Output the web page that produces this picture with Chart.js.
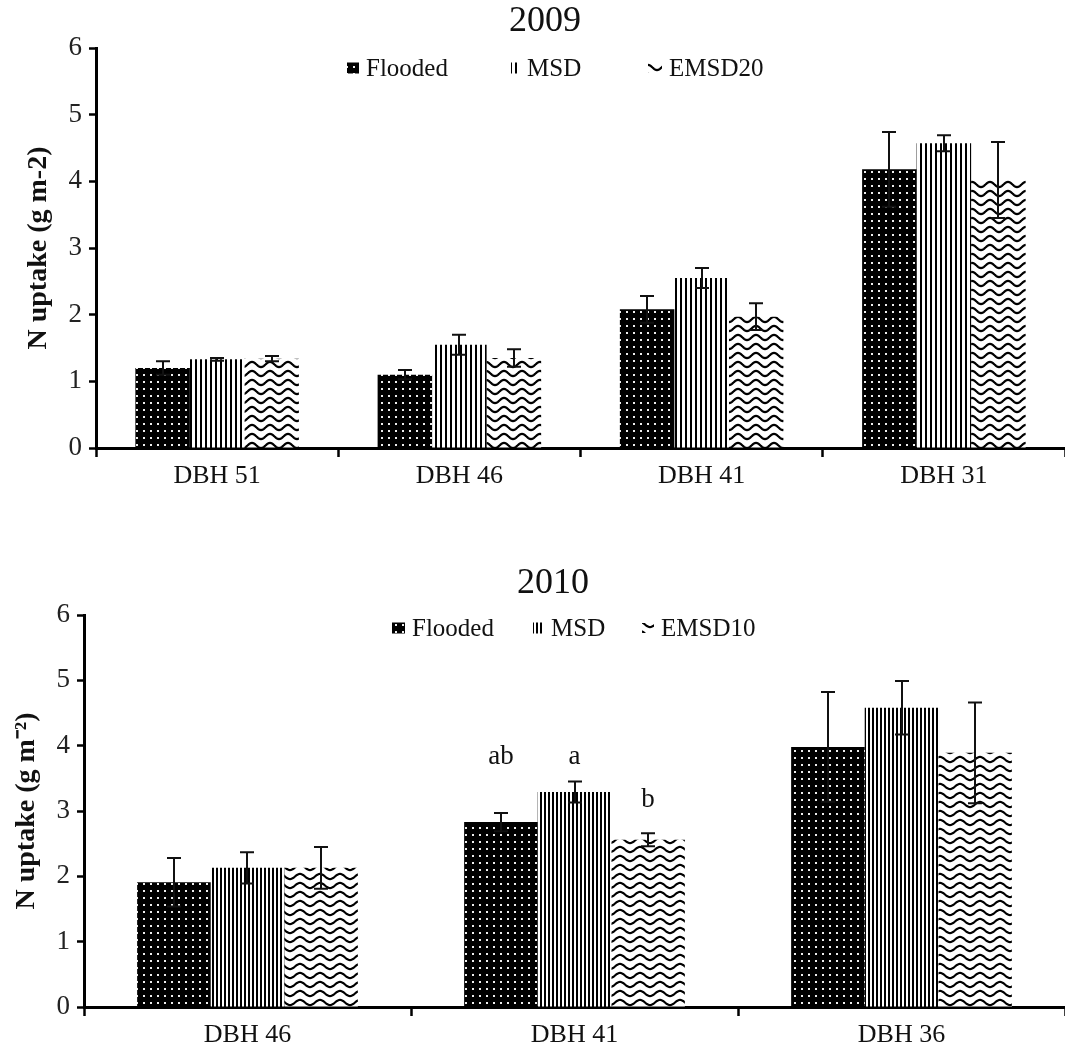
<!DOCTYPE html>
<html>
<head>
<meta charset="utf-8">
<script src="https://cdn.jsdelivr.net/npm/chart.js@4.4.0/dist/chart.umd.min.js"></script>
<style>
  body { margin: 0; background: #fff; }
  #wrap { position: relative; width: 1065px; height: 1056px; }
  .box { position: absolute; left: 0; width: 1065px; }
</style>
</head>
<body>
<div id="wrap">
  <div class="box" style="top:0;height:520px"><canvas id="chart2009"></canvas></div>
  <div class="box" style="top:530px;height:526px"><canvas id="chart2010"></canvas></div>
</div>
<script>
// 2009 season
const cats2009 = ['DBH 51', 'DBH 46', 'DBH 41', 'DBH 31'];
const flooded2009 = [1.20, 1.10, 2.08, 4.18];
const floodedErr2009 = [0.10, 0.07, 0.20, 0.56];
const msd2009 = [1.33, 1.55, 2.55, 4.57];
const msdErr2009 = [0.02, 0.15, 0.15, 0.12];
const emsd2009 = [1.34, 1.35, 1.97, 4.02];
const emsdErr2009 = [0.04, 0.13, 0.20, 0.57];

// 2010 season
const cats2010 = ['DBH 46', 'DBH 41', 'DBH 36'];
const flooded2010 = [1.91, 2.83, 3.98];
const floodedErr2010 = [0.37, 0.14, 0.84];
const msd2010 = [2.13, 3.29, 4.58];
const msdErr2010 = [0.24, 0.16, 0.41];
const emsd2010 = [2.13, 2.56, 3.89];
const emsdErr2010 = [0.32, 0.10, 0.77];

// significance letters for DBH 41 in 2010
const letters2010 = ['ab', 'a', 'b'];

const yTicks = [0, 1, 2, 3, 4, 5, 6];

const serif = "'Liberation Serif', 'Times New Roman', serif";

function makeTile(w, h, draw) {
  const c = document.createElement('canvas');
  c.width = w; c.height = h;
  const g = c.getContext('2d');
  draw(g, w, h);
  return g.createPattern(c, 'repeat');
}

// black with white dots
function dotFill() {
  return makeTile(7, 7, (g, w, h) => {
    g.fillStyle = '#000'; g.fillRect(0, 0, w, h);
    g.fillStyle = '#eee'; g.fillRect(3, 3, 2, 2);
  });
}

// vertical stripes
function stripeFill(period) {
  return makeTile(period, 4, (g, w, h) => {
    g.fillStyle = '#fff'; g.fillRect(0, 0, w, h);
    g.fillStyle = '#000'; g.fillRect(0, 0, 2, h);
  });
}

// wavy lines
function waveFill(w, h) {
  return makeTile(w, h, (g) => {
    g.fillStyle = '#fff'; g.fillRect(0, 0, w, h);
    g.strokeStyle = '#000'; g.lineWidth = 2.2;
    g.beginPath();
    for (let x = -1; x <= w + 1; x++) {
      const y = h / 2 - 2.6 * Math.cos(2 * Math.PI * x / w);
      if (x === -1) g.moveTo(x, y); else g.lineTo(x, y);
    }
    g.stroke();
  });
}

// error bars, both directions, with caps
const errorBars = {
  id: 'errorBars',
  afterDatasetsDraw(chart) {
    const ctx = chart.ctx;
    const y = chart.scales.y;
    ctx.save();
    ctx.strokeStyle = '#111';
    ctx.lineWidth = 2;
    chart.data.datasets.forEach((ds, i) => {
      chart.getDatasetMeta(i).data.forEach((bar, j) => {
        const v = ds.data[j], e = ds.errors[j];
        const top = y.getPixelForValue(v + e);
        const bot = y.getPixelForValue(v - e);
        const x = Math.round(bar.x);
        ctx.beginPath();
        ctx.moveTo(x, top); ctx.lineTo(x, bot);
        ctx.moveTo(x - 7, top); ctx.lineTo(x + 7, top);
        ctx.moveTo(x - 7, bot); ctx.lineTo(x + 7, bot);
        ctx.stroke();
      });
    });
    ctx.restore();
  }
};

// title, legend and letters drawn over the plot
const decor = {
  id: 'decor',
  afterDraw(chart, args, opts) {
    const ctx = chart.ctx;
    ctx.save();
    ctx.fillStyle = '#111';
    ctx.textBaseline = 'middle';
    ctx.font = '36px ' + serif;
    ctx.textAlign = 'center';
    ctx.fillText(opts.title, opts.titleX, opts.titleY);

    ctx.font = '25px ' + serif;
    ctx.textAlign = 'left';
    chart.data.datasets.forEach((ds, i) => {
      const mx = opts.legendX[i];
      const [mw, mh] = opts.markSize[i];
      ctx.fillStyle = ds.backgroundColor;
      ctx.fillRect(mx, opts.legendY - mh / 2, mw, mh);
      ctx.fillStyle = '#111';
      ctx.fillText(ds.label, mx + mw + 7, opts.legendY + 1);
    });

    if (opts.letters) {
      const y = chart.scales.y;
      ctx.font = '27px ' + serif;
      ctx.textAlign = 'center';
      opts.letters.forEach((txt, i) => {
        const bar = chart.getDatasetMeta(i).data[opts.letterCat];
        ctx.fillText(txt, bar.x, y.getPixelForValue(opts.letterLevel[i]));
      });
    }
    ctx.restore();
  }
};

function makeChart(id, cfg) {
  return new Chart(document.getElementById(id), {
    type: 'bar',
    data: {
      labels: cfg.labels,
      datasets: [
        { label: 'Flooded', data: cfg.flooded, errors: cfg.floodedErr, backgroundColor: dotFill() },
        { label: 'MSD', data: cfg.msd, errors: cfg.msdErr, backgroundColor: stripeFill(cfg.stripe) },
        { label: cfg.emsdName, data: cfg.emsd, errors: cfg.emsdErr, backgroundColor: waveFill(cfg.wave, 9) }
      ]
    },
    options: {
      responsive: true,
      maintainAspectRatio: false,
      animation: false,
      datasets: { bar: { barPercentage: 1, categoryPercentage: 0.675, borderWidth: 0 } },
      layout: { padding: { top: cfg.top, left: 0, right: 0, bottom: 0 } },
      plugins: {
        legend: { display: false },
        tooltip: { enabled: false },
        decor: cfg.decor
      },
      scales: {
        x: {
          afterFit(s) { s.height = cfg.xHeight; },
          grid: { drawOnChartArea: false, offset: true, tickLength: 9, tickWidth: 2.5, color: '#000' },
          border: { color: '#000', width: 3 },
          ticks: { color: '#111', padding: 4, font: { family: serif, size: 26 } }
        },
        y: {
          min: 0, max: 6,
          afterFit(s) { s.width = cfg.yWidth; },
          afterBuildTicks(s) { s.ticks = yTicks.map(v => ({ value: v })); },
          grid: { drawOnChartArea: false, tickLength: 7, tickWidth: 2.5, color: '#000' },
          border: { color: '#000', width: 3 },
          ticks: { color: '#222', padding: 7, font: { family: serif, size: 27 } },
          title: {
            display: true,
            text: cfg.yTitle,
            color: '#111',
            padding: { top: cfg.yTitlePad, bottom: 0 },
            font: { family: serif, size: 28, weight: 'bold' }
          }
        }
      }
    },
    plugins: [errorBars, decor]
  });
}

makeChart('chart2009', {
  labels: cats2009,
  flooded: flooded2009, floodedErr: floodedErr2009,
  msd: msd2009, msdErr: msdErr2009,
  emsd: emsd2009, emsdErr: emsdErr2009,
  emsdName: 'EMSD20',
  stripe: 5, wave: 18,
  top: 48, xHeight: 72, yWidth: 96, yTitlePad: 22,
  yTitle: 'N uptake (g m-2)',
  decor: {
    title: '2009', titleX: 545, titleY: 22,
    legendY: 68, legendX: [347, 511, 648], markSize: [[12, 11], [9, 11], [14, 10]]
  }
});

makeChart('chart2010', {
  labels: cats2010,
  flooded: flooded2010, floodedErr: floodedErr2010,
  msd: msd2010, msdErr: msdErr2010,
  emsd: emsd2010, emsdErr: emsdErr2010,
  emsdName: 'EMSD10',
  stripe: 4, wave: 20,
  top: 85, xHeight: 49, yWidth: 84, yTitlePad: 10,
  yTitle: 'N uptake (g m\u207B\u00B2)',
  decor: {
    title: '2010', titleX: 553, titleY: 54,
    legendY: 98, legendX: [392, 533, 642], markSize: [[13, 11], [11, 11], [12, 10]],
    letters: letters2010, letterCat: 1, letterLevel: [3.83, 3.83, 3.17]
  }
});
</script>
</body>
</html>
